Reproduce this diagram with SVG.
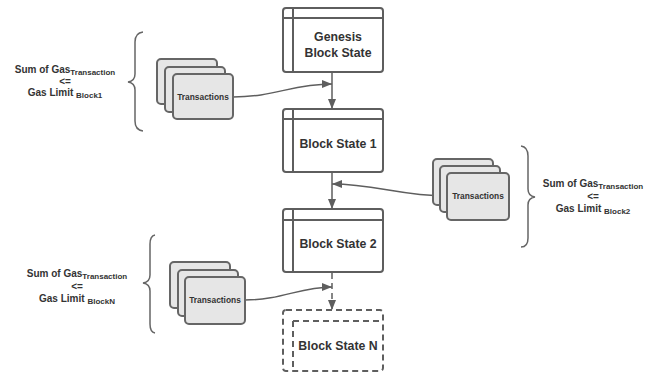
<svg xmlns="http://www.w3.org/2000/svg" width="655" height="375" viewBox="0 0 655 375">
<defs>
<marker id="arr" markerWidth="10" markerHeight="8" refX="10" refY="4" orient="auto" markerUnits="userSpaceOnUse">
<path d="M0,0 L10,4 L0,8 Z" fill="#5e5e5e"/>
</marker>
</defs>
<style>
.blk{fill:#fff;stroke:#5e5e5e;stroke-width:2}
.dash{stroke-dasharray:6 4}
.ln{fill:none;stroke:#5e5e5e;stroke-width:2}
.card{fill:#e6e6e6;stroke:#666;stroke-width:2}
.con{fill:none;stroke:#5e5e5e;stroke-width:1.5}
.br{fill:none;stroke:#666;stroke-width:1.5}
.t{font-family:"Liberation Sans",Arial,sans-serif;font-weight:bold;fill:#333}
.bt{font-size:12.3px}
.ct{font-size:8.4px}
.st{font-size:10px}
.sub{font-size:8px}
</style>
<rect width="655" height="375" fill="#fff"/>

<g id="connectors">
<line class="con" x1="332" y1="73" x2="332" y2="109" marker-end="url(#arr)"/>
<path class="con" d="M233,97 C275,97 292,84 332,84" marker-end="url(#arr)"/>
<line class="con" x1="332" y1="173" x2="332" y2="209" marker-end="url(#arr)"/>
<path class="con" d="M447,196 C400,196 375,184 332,184" marker-end="url(#arr)"/>
<line class="con dash" x1="332" y1="273" x2="332" y2="310" marker-end="url(#arr)"/>
<path class="con" d="M245,300 C282,300 300,287 332,287" marker-end="url(#arr)"/>
</g>

<g id="genesis">
<rect class="blk" x="283" y="8" width="100" height="64" rx="3"/>
<line class="ln" x1="283" y1="18" x2="383" y2="18"/>
<line class="ln" x1="293" y1="8" x2="293" y2="72"/>
<text class="t bt" x="338" y="41" text-anchor="middle">Genesis</text>
<text class="t bt" x="338" y="57" text-anchor="middle">Block State</text>
</g>

<g id="block1">
<rect class="blk" x="283" y="109" width="100" height="63" rx="3"/>
<line class="ln" x1="283" y1="119" x2="383" y2="119"/>
<line class="ln" x1="293" y1="109" x2="293" y2="172"/>
<text class="t bt" x="338" y="148" text-anchor="middle">Block State 1</text>
</g>

<g id="block2">
<rect class="blk" x="283" y="209" width="100" height="63" rx="3"/>
<line class="ln" x1="283" y1="220" x2="383" y2="220"/>
<line class="ln" x1="293" y1="209" x2="293" y2="272"/>
<text class="t bt" x="338" y="248" text-anchor="middle">Block State 2</text>
</g>

<g id="blockN">
<rect class="blk dash" x="283" y="310" width="100" height="61" rx="3"/>
<line class="ln dash" x1="293" y1="321" x2="383" y2="321"/>
<line class="ln dash" x1="293" y1="321" x2="293" y2="371"/>
<text class="t bt" x="338" y="350" text-anchor="middle">Block State N</text>
</g>

<g id="tx1">
<rect class="card" x="157" y="59" width="60" height="45" rx="4"/>
<rect class="card" x="165" y="67" width="60" height="45" rx="4"/>
<rect class="card" x="173" y="74" width="60" height="45" rx="4"/>
<text class="t ct" x="203" y="100" text-anchor="middle">Transactions</text>
</g>

<g id="tx2">
<rect class="card" x="433" y="159" width="60" height="46" rx="4"/>
<rect class="card" x="440" y="166" width="60" height="46" rx="4"/>
<rect class="card" x="447" y="173" width="62" height="47" rx="4"/>
<text class="t ct" x="478" y="199" text-anchor="middle">Transactions</text>
</g>

<g id="tx3">
<rect class="card" x="170" y="262" width="60" height="46" rx="4"/>
<rect class="card" x="178" y="270" width="60" height="46" rx="4"/>
<rect class="card" x="185" y="277" width="60" height="47" rx="4"/>
<text class="t ct" x="215" y="303" text-anchor="middle">Transactions</text>
</g>

<g id="brace1">
<path class="br" d="M143,32 Q135,33 135,42 L135,74 Q135,81 128,82 Q135,83 135,90 L135,121 Q135,130 143,131"/>
</g>
<g id="brace2">
<path class="br" d="M521,146 Q528,147 528,156 L528,189 Q528,196 535,197 Q528,198 528,205 L528,238 Q528,247 521,247"/>
</g>
<g id="brace3">
<path class="br" d="M155,235 Q150,236 150,244 L150,275 Q150,282 143,283 Q150,284 150,291 L150,324 Q150,332 155,333"/>
</g>

<g id="label1">
<text class="t st" x="65" y="73" text-anchor="middle">Sum of Gas<tspan class="sub" dy="1.5">Transaction</tspan></text>
<text class="t st" x="65" y="84.5" text-anchor="middle">&lt;=</text>
<text class="t st" x="65" y="96" text-anchor="middle">Gas Limit <tspan class="sub" dy="1.5">Block1</tspan></text>
</g>
<g id="label2">
<text class="t st" x="593" y="187" text-anchor="middle">Sum of Gas<tspan class="sub" dy="1.5">Transaction</tspan></text>
<text class="t st" x="593" y="199.5" text-anchor="middle">&lt;=</text>
<text class="t st" x="593" y="212" text-anchor="middle">Gas Limit <tspan class="sub" dy="1.5">Block2</tspan></text>
</g>
<g id="label3">
<text class="t st" x="77" y="277" text-anchor="middle">Sum of Gas<tspan class="sub" dy="1.5">Transaction</tspan></text>
<text class="t st" x="77" y="290" text-anchor="middle">&lt;=</text>
<text class="t st" x="77" y="302" text-anchor="middle">Gas Limit <tspan class="sub" dy="1.5">BlockN</tspan></text>
</g>
</svg>
